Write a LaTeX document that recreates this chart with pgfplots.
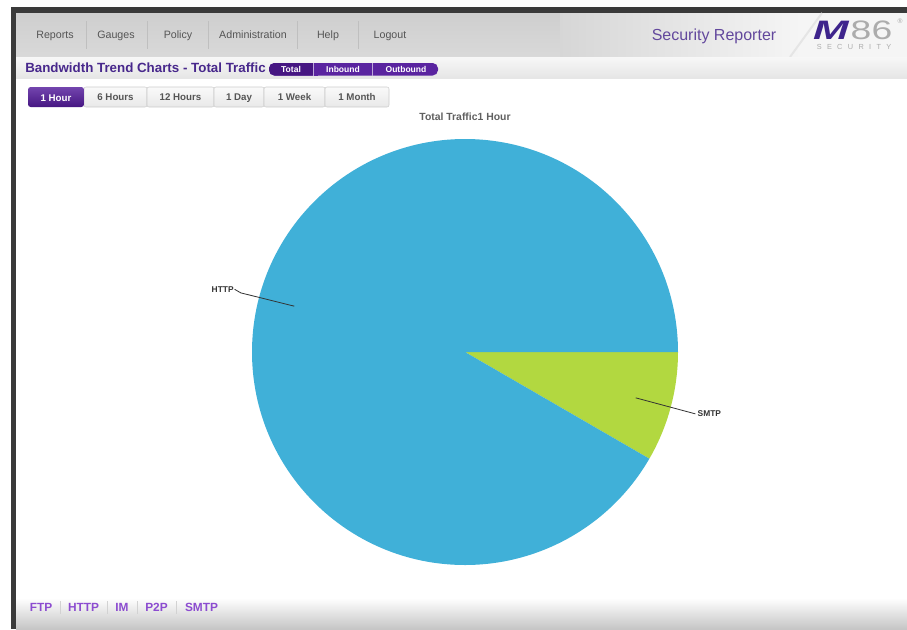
\documentclass[border=0pt]{standalone}
\usepackage{pgfplots}
\usepackage{pgfplotstable}
\pgfplotsset{compat=1.18}
\usepackage{fontspec}
\setmainfont{Liberation Sans}

\definecolor{httpblue}{RGB}{64,176,216}
\definecolor{smtpgreen}{RGB}{178,216,64}
\definecolor{navtext}{RGB}{85,85,85}
\definecolor{titlepurple}{RGB}{72,40,140}
\definecolor{btnpurple}{RGB}{90,36,160}
\definecolor{btndark}{RGB}{70,22,130}
\definecolor{logoM}{RGB}{62,36,140}
\definecolor{linkpurple}{RGB}{140,76,208}
\definecolor{frame}{RGB}{58,58,58}

% pie shares (percent of total traffic, 1 hour)
\pgfplotstableread{
label share
HTTP  91.65
SMTP  8.35
}\piedata

\begin{document}
\begin{tikzpicture}[font=\sffamily]
 \begin{scope}[x=0.75pt, y=0.75pt]
  % page
  \fill[white] (0,0) rectangle (907,-629);
  \useasboundingbox (0,0) rectangle (907,-629);

  % frame
  \fill[frame] (11,-7) rectangle (907,-13);
  \fill[frame] (11,-7) rectangle (16,-629);

  % header
  \shade[top color=gray!38, bottom color=gray!30] (16,-13) rectangle (907,-57);
  \shade[left color=gray!32, right color=gray!8] (560,-13) rectangle (800,-57);
  \fill[gray!8] (800,-13) rectangle (907,-57);
  \draw[gray!20, line width=1.5] (790,-57) -- (822,-13);
  \foreach \sx in {86,147,208,297,358}
    \draw[gray!50] (\sx,-21) -- (\sx,-49);
  \foreach \nx/\nt in {55/Reports,116/Gauges,178/Policy,253/Administration,328/Help,390/Logout}
    \node[navtext, font=\fontsize{8}{9}\selectfont, anchor=base, inner sep=0] at (\nx,-38) {\nt};
  \node[titlepurple!85, font=\fontsize{12}{14}\selectfont, anchor=base, inner sep=0] at (714,-40) {Security Reporter};
  % logo
  \node[logoM, font=\fontsize{20}{20}\bfseries\itshape, inner sep=0, anchor=base, xscale=1.6] at (831,-39) {M};
  \node[gray!65, font=\fontsize{20}{20}\selectfont, inner sep=0, anchor=base, xscale=1.4] at (871.5,-39) {86};
  \node[gray!65, font=\fontsize{5.5}{5.5}\selectfont, inner sep=0, anchor=base] at (854,-49.5) {S\hspace{4pt}E\hspace{4pt}C\hspace{4pt}U\hspace{4pt}R\hspace{4pt}I\hspace{4pt}T\hspace{4pt}Y};
  \node[gray!70, font=\fontsize{5}{5}\selectfont, inner sep=0] at (900,-21) {\textregistered};

  % sub header
  \shade[top color=gray!6, bottom color=gray!20] (16,-57) rectangle (907,-78);
  \node[titlepurple, font=\fontsize{10}{12}\bfseries, anchor=base west, inner sep=0] at (25,-72) {Bandwidth Trend Charts - Total Traffic};
  \fill[btnpurple, rounded corners=4] (269,-63) rectangle (438,-75.5);
  \fill[btndark, rounded corners=4] (269,-63) rectangle (318,-75.5);
  \fill[btnpurple] (313,-63) rectangle (318,-75.5);
  \draw[white!60!btnpurple] (313,-63) -- (313,-75.5) (372,-63) -- (372,-75.5);
  \foreach \bx/\bt in {291/Total,343/Inbound,406/Outbound}
    \node[white, font=\fontsize{6.4}{7}\bfseries, inner sep=0, anchor=base] at (\bx,-72) {\bt};

  % time tabs
  \foreach \xa/\xb/\tl in {84/147/6 Hours,147/214/12 Hours,214/264/1 Day,264/325/1 Week,325/389/1 Month}{
    \shade[top color=gray!4, bottom color=gray!18, draw=gray!40, rounded corners=1.5] (\xa,-87) rectangle (\xb,-107);
    \node[navtext, font=\fontsize{7.3}{8}\bfseries, inner sep=0, anchor=base] at ({(\xa+\xb)/2},-100.5) {\tl};
  }
  \shade[top color=btnpurple!85, bottom color=btndark, rounded corners=2] (28,-87) rectangle (84,-107);
  \node[white, font=\fontsize{7.3}{8}\bfseries, inner sep=0, anchor=base] at (56,-101) {1 Hour};

  % chart title
  \node[gray!75!black, font=\fontsize{7.8}{9}\bfseries, inner sep=0, anchor=base] at (465,-120) {Total Traffic1 Hour};

  % bottom bar
  \shade[top color=white, bottom color=gray!45] (16,-598) rectangle (907,-629);
  \foreach \lx/\lt in {41/FTP,83.5/HTTP,122/IM,156.5/P2P,201.5/SMTP}
    \node[linkpurple, font=\fontsize{8.9}{10}\bfseries, inner sep=0, anchor=base] at (\lx,-611.5) {\lt};
  \foreach \sx in {60,107,137,176}
    \draw[gray!35] (\sx,-601) -- (\sx,-614);
 \end{scope}

  % pie angles from the data
  \pgfplotstablegetelem{0}{share}\of\piedata \let\httpv\pgfplotsretval
  \pgfplotstablegetelem{1}{share}\of\piedata \let\smtpv\pgfplotsretval
  \pgfmathsetmacro{\httpang}{3.6*\httpv}
  \pgfmathsetmacro{\smtpang}{3.6*\smtpv}
  \pgfmathsetmacro{\httpmid}{\httpang/2}
  \pgfmathsetmacro{\smtpmid}{-\smtpang/2}

  \begin{axis}[
    at={(348.75pt,-264pt)}, anchor=center,
    scale only axis, width=319.5pt, height=319.5pt,
    xmin=-1, xmax=1, ymin=-1, ymax=1,
    hide axis, clip=false,
    ]
    \fill[smtpgreen] (axis cs:0,0) -- (axis cs:1,0)
      arc[start angle=0, end angle=-\smtpang, radius=159.75pt] -- cycle;
    \fill[httpblue] (axis cs:0,0) -- (axis cs:1,0)
      arc[start angle=0, end angle=\httpang, radius=159.75pt] -- cycle;
    % leader lines and labels
    \draw[black!80, line width=0.6pt] (axis cs:{0.83*cos(\httpmid)},{0.83*sin(\httpmid)})
      -- (axis cs:{1.09*cos(\httpmid)},{1.09*sin(\httpmid)-0.005})
      -- (axis cs:{1.12*cos(\httpmid)},{1.12*sin(\httpmid)+0.004});
    \node[black!80, font=\fontsize{6.3}{7}\bfseries, anchor=east, inner sep=0.5pt]
      at (axis cs:{1.12*cos(\httpmid)},{1.12*sin(\httpmid)+0.004}) {HTTP};
    \draw[black!80, line width=0.6pt] (axis cs:{0.83*cos(\smtpmid)},{0.83*sin(\smtpmid)})
      -- (axis cs:{1.12*cos(\smtpmid)},{1.12*sin(\smtpmid)});
    \node[black!80, font=\fontsize{6.3}{7}\bfseries, anchor=west, inner sep=1.5pt]
      at (axis cs:{1.12*cos(\smtpmid)},{1.12*sin(\smtpmid)}) {SMTP};
  \end{axis}
\end{tikzpicture}
\end{document}
